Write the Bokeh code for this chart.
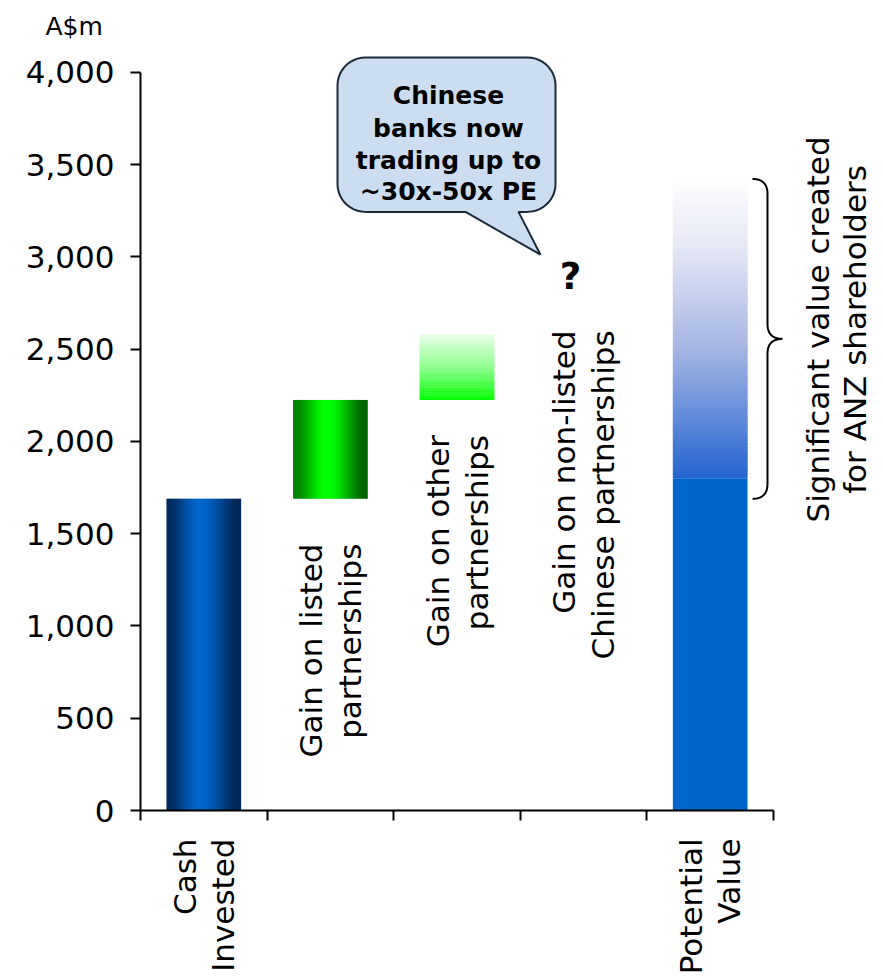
import numpy as np
from bokeh.plotting import figure
from bokeh.models import Range1d, FixedTicker, NumeralTickFormatter, ColumnDataSource, Title
from bokeh.core.properties import value
from bokeh.embed import file_html
from bokeh.resources import INLINE

# ---- data (A$m) ----
categories = ["Cash Invested", "Gain on listed partnerships", "Gain on other partnerships",
              "Gain on non-listed Chinese partnerships", "Potential Value"]
cash_invested = 1690
gain_listed = 535
gain_other = 355
potential_base = 1800
potential_top = 3430
y_ticks = [0, 500, 1000, 1500, 2000, 2500, 3000, 3500, 4000]

# ---- layout ----
W, H = 883, 977
LEFT, BOTTOM, TOP = 140, 166, 52   # frame offsets in pixels
SLOT_PX = 126.6                    # pixels per category slot
UNIT_PX = 741 / 4000               # pixels per A$m
BAR_W = 0.59
FONT = "DejaVu Sans"


def dx(px):
    return (px - LEFT) / SLOT_PX


def dy(py):
    return (H - BOTTOM - py) / UNIT_PX


def mix(stops, t, smooth=False):
    for (t0, c0), (t1, c1) in zip(stops[:-1], stops[1:]):
        if t <= t1:
            f = (t - t0) / (t1 - t0) if t1 > t0 else 0.0
            if smooth:
                f = 0.5 - 0.5 * np.cos(np.pi * f)
            return "#%02x%02x%02x" % tuple(int(round(a + (b - a) * f)) for a, b in zip(c0, c1))
    return "#%02x%02x%02x" % tuple(stops[-1][1])


def hstrips(center, bottom, top, stops, n=48):
    left = center - BAR_W / 2
    w = BAR_W / n
    return dict(left=[left + i * w for i in range(n)],
                right=[min(left + (i + 1.6) * w, left + BAR_W) for i in range(n)],
                bottom=[bottom] * n, top=[top] * n,
                color=[mix(stops, (i + 0.5) / n, smooth=True) for i in range(n)])


def vstrips(center, bottom, top, stops, n=90):
    h = (top - bottom) / n
    return dict(left=[center - BAR_W / 2] * n, right=[center + BAR_W / 2] * n,
                bottom=[bottom + i * h for i in range(n)],
                top=[min(bottom + (i + 1.6) * h, top) for i in range(n)],
                color=[mix(stops, (i + 0.5) / n) for i in range(n)])


p = figure(width=W, height=H, title=None, output_backend="svg", toolbar_location=None,
           x_range=Range1d(0, (W - LEFT) / SLOT_PX),
           y_range=Range1d(0, (H - BOTTOM - TOP) / UNIT_PX),
           min_border_left=LEFT, min_border_bottom=BOTTOM, min_border_right=0, min_border_top=TOP)
p.outline_line_color = None
p.grid.visible = False
p.background_fill_color = "white"
p.border_fill_color = "white"

# unit heading over the value axis
p.add_layout(Title(text="A$m", align="left", offset=-95, standoff=23, vertical_align="top",
                   text_font=FONT, text_font_size="25px", text_font_style="normal",
                   text_color="black"), "above")

# value axis
p.yaxis.bounds = (0, 4000)
p.yaxis.ticker = FixedTicker(ticks=y_ticks)
p.yaxis.formatter = NumeralTickFormatter(format="0,0")
p.yaxis.major_label_text_font = FONT
p.yaxis.major_label_text_font_size = "31px"
p.yaxis.major_label_text_color = "black"
p.yaxis.major_label_standoff = 16
p.yaxis.major_tick_out = 10
p.yaxis.major_tick_in = 0
p.yaxis.minor_tick_out = 0
p.yaxis.minor_tick_in = 0

# category axis: labels at slot centres, tick marks on slot boundaries
centers = [i + 0.5 for i in range(len(categories))]
axis_text = {0.5: "Cash\nInvested", 4.5: "Potential\nValue"}
p.xaxis.bounds = (0, len(categories))
p.xaxis.ticker = FixedTicker(ticks=centers, minor_ticks=list(range(len(categories) + 1)))
p.xaxis.major_label_overrides = {c: axis_text.get(c, "") for c in centers}
p.xaxis.major_label_orientation = np.pi / 2
p.xaxis.major_label_text_font = FONT
p.xaxis.major_label_text_font_size = "31px"
p.xaxis.major_label_text_color = "black"
p.xaxis.major_label_text_line_height = 1.05
p.xaxis.major_label_standoff = 18
p.xaxis.major_tick_out = 0
p.xaxis.major_tick_in = 0
p.xaxis.minor_tick_out = 10
p.xaxis.minor_tick_in = 0
p.xaxis.minor_tick_line_color = "black"
p.xaxis.minor_tick_line_width = 2
for ax in (p.xaxis, p.yaxis):
    ax.axis_line_color = "black"
    ax.axis_line_width = 2
    ax.major_tick_line_color = "black"
    ax.major_tick_line_width = 2

# bars
cash_stops = [(0.0, (0, 42, 92)), (0.45, (0, 102, 204)), (1.0, (0, 38, 86))]
listed_stops = [(0.0, (0, 128, 0)), (0.45, (0, 255, 0)), (1.0, (0, 98, 0))]
other_stops = [(0.0, (0, 255, 0)), (0.5, (140, 255, 140)), (1.0, (232, 255, 232))]
upside_stops = [(0.0, (36, 100, 208)), (0.42, (164, 180, 226)), (0.75, (226, 229, 244)), (1.0, (255, 255, 255))]

p.quad(source=ColumnDataSource(hstrips(0.5, 0, cash_invested, cash_stops)),
       left="left", right="right", bottom="bottom", top="top", fill_color="color", line_color=None)
p.quad(source=ColumnDataSource(hstrips(1.5, cash_invested, cash_invested + gain_listed, listed_stops)),
       left="left", right="right", bottom="bottom", top="top", fill_color="color", line_color=None)
p.quad(source=ColumnDataSource(vstrips(2.5, cash_invested + gain_listed,
                                       cash_invested + gain_listed + gain_other, other_stops)),
       left="left", right="right", bottom="bottom", top="top", fill_color="color", line_color=None)
p.quad(source=ColumnDataSource(vstrips(4.5, potential_base, potential_top, upside_stops)),
       left="left", right="right", bottom="bottom", top="top", fill_color="color", line_color=None)
p.vbar(x=[4.5], width=BAR_W, bottom=[0], top=[potential_base], fill_color="#0066CC", line_color=None)

# rotated step labels inside the plot
off = 19.5 / SLOT_PX
inner = dict(x=[1.5 - off, 1.5 + off, 2.5 - off, 2.5 + off, 3.5 - off, 3.5 + off],
             y=[dy(543)] * 2 + [dy(434)] * 2 + [dy(329)] * 2,
             text=["Gain on listed", "partnerships", "Gain on other", "partnerships",
                   "Gain on non-listed", "Chinese partnerships"])
p.text(source=ColumnDataSource(inner), x="x", y="y", text="text", angle=np.pi / 2,
       text_align="right", text_baseline="middle", text_font=value(FONT),
       text_font_size="31px", text_color="black")

# callout bubble
bx0, bx1, by0, by1, r = 337, 555, 55, 210, 28
pts = [(bx0 + r, by0), (bx1 - r, by0)]
pts += [(bx1 - r + r * np.cos(a), by0 + r + r * np.sin(a)) for a in np.linspace(-np.pi / 2, 0, 12)]
pts += [(bx1, by1 - r)]
pts += [(bx1 - r + r * np.cos(a), by1 - r + r * np.sin(a)) for a in np.linspace(0, np.pi / 2, 12)]
pts += [(518, by1), (540, 253), (465, by1)]
pts += [(bx0 + r + r * np.cos(a), by1 - r + r * np.sin(a)) for a in np.linspace(np.pi / 2, np.pi, 12)]
pts += [(bx0 + r + r * np.cos(a), by0 + r + r * np.sin(a)) for a in np.linspace(np.pi, 1.5 * np.pi, 12)]
p.patch([dx(a) for a, b in pts], [dy(b) for a, b in pts], fill_color="#CCDDF2",
        line_color="#1B2A3A", line_width=2)

callout = dict(x=[dx(448)] * 4, y=[dy(93), dy(126), dy(158), dy(190)],
               text=["Chinese", "banks now", "trading up to", "~30x-50x PE"])
p.text(source=ColumnDataSource(callout), x="x", y="y", text="text", text_align="center",
       text_baseline="alphabetic", text_font=value(FONT), text_font_style="bold",
       text_font_size="25px", text_color="black")
p.text(x=[dx(570)], y=[dy(275)], text=["?"], text_align="center", text_baseline="alphabetic",
       text_font=value(FONT), text_font_style="bold", text_font_size="37px", text_color="black")


# curly brace spanning the upside
def qbez(p0, c, p1, n=14):
    t = np.linspace(0, 1, n)
    return [((1 - s) ** 2 * p0[0] + 2 * (1 - s) * s * c[0] + s ** 2 * p1[0],
             (1 - s) ** 2 * p0[1] + 2 * (1 - s) * s * c[1] + s ** 2 * p1[1]) for s in t]


y_hi = 177
y_lo = 498
y_mid = (y_hi + y_lo) / 2
x0, xm, x1 = 752, 767, 782
br = []
br += qbez((x0, y_hi), (xm, y_hi), (xm, y_hi + 15))
br += qbez((xm, y_mid - 15), (xm, y_mid), (x1, y_mid))
br += qbez((x1, y_mid), (xm, y_mid), (xm, y_mid + 15))
br += qbez((xm, y_lo - 15), (xm, y_lo), (x0, y_lo))
p.line([dx(a) for a, b in br], [dy(b) for a, b in br], line_color="black", line_width=2)

brace_text = dict(x=[dx(817), dx(854)], y=[dy(328)] * 2,
                  text=["Significant value created", "for ANZ shareholders"])
p.text(source=ColumnDataSource(brace_text), x="x", y="y", text="text", angle=np.pi / 2,
       text_align="center", text_baseline="middle", text_font=value(FONT),
       text_font_size="31px", text_color="black")

open("out.html", "w").write(file_html(p, INLINE))
